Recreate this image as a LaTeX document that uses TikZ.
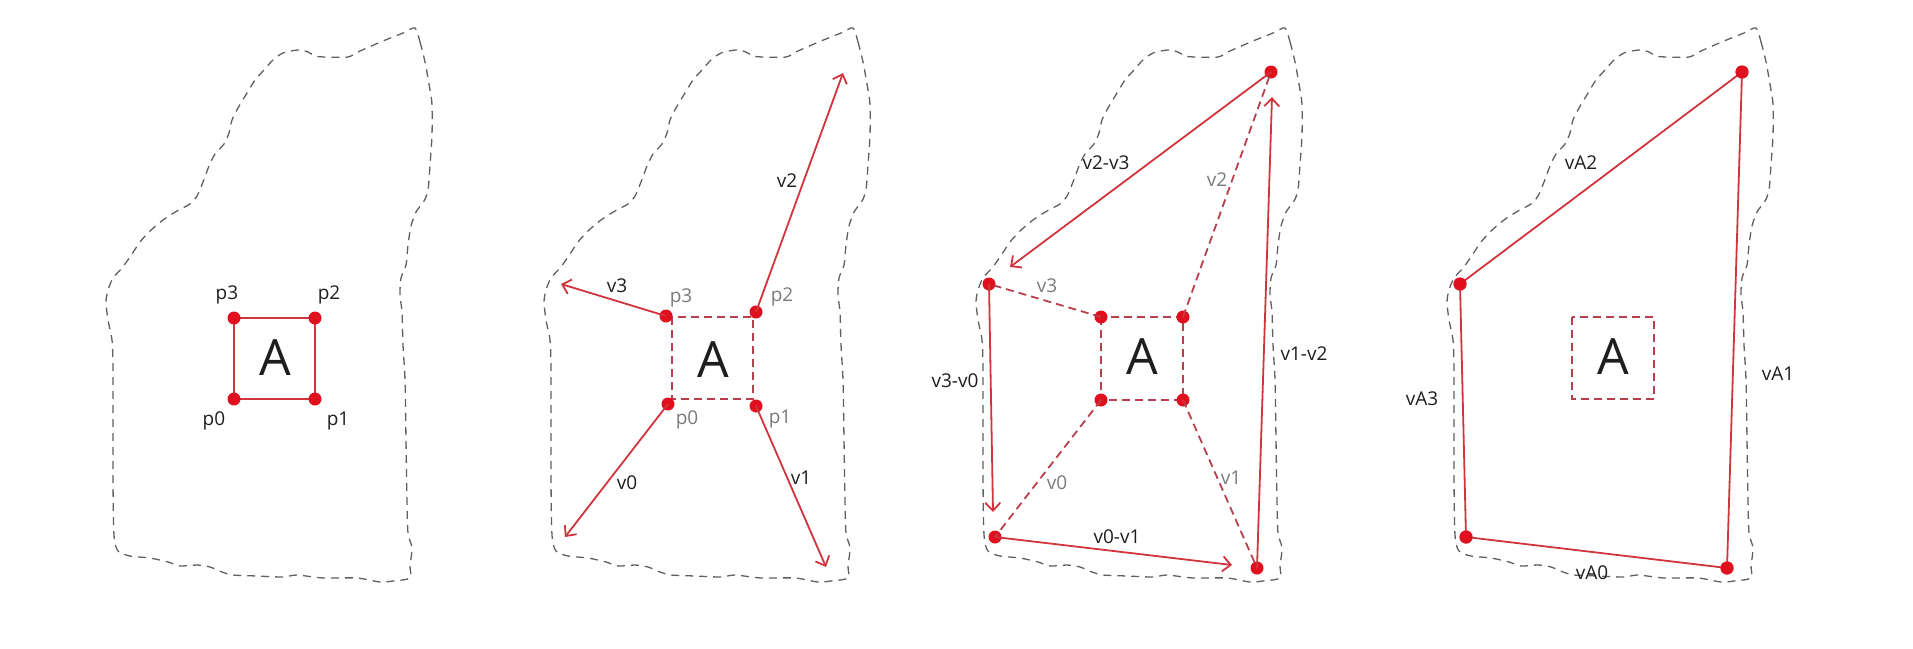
\documentclass[tikz,border=0pt]{standalone}
\usepackage{fontspec}
\setmainfont{Open Sans}
\usetikzlibrary{arrows.meta}
\definecolor{dotred}{HTML}{E0101E}
\definecolor{linered}{HTML}{D0343C}
\definecolor{sqred}{HTML}{B8404E}
\definecolor{blobgray}{HTML}{606060}
\definecolor{lblgray}{HTML}{7A7A7A}
\definecolor{txt}{HTML}{1E1E1E}
\tikzset{
  dot/.style={circle,fill=dotred,inner sep=0pt,minimum size=13pt},
  lbl/.style={font=\fontsize{19}{22}\selectfont,text=txt,inner sep=0pt},
  glbl/.style={lbl,text=lblgray},
  bigA/.style={font=\fontsize{50}{56}\selectfont,text=txt,inner sep=0pt},
  solidline/.style={draw=linered,line width=1.8pt},
  vecline/.style={solidline,-{Straight Barb[length=8pt,width=15pt,line width=1.8pt]}},
  dline/.style={draw=sqred,line width=1.8pt,dash pattern=on 8pt off 5pt},
  blobline/.style={draw=blobgray,line width=1.3pt,dash pattern=on 8pt off 6pt},
}
\begin{document}
\begin{tikzpicture}[x=1pt,y=-1pt]
\useasboundingbox (0,0) rectangle (1913,648);
% blob outlines
\foreach \dx in {0,438,870,1341}{
\draw[blobline,xshift=\dx] plot[smooth cycle,tension=0.45] coordinates {
(415,28) (420,42) (425,62) (430,90) (432,105) (432,135) (430,165) (428,190) (424,201) (416,212) (411,226) (408,245) (406,265) (401,278) (400,295) (402,312) (403,345) (405,380) (406,440) (407,500) (408,533) (412,548) (410,566) (410,578)
(393,581) (380,582) (357,578) (323,578) (297,575) (283,577) (257,576) (233,575) (222,572) (210,567) (197,565) (180,566) (168,562) (150,558) (130,556) (118,551) (114,535)
(113,480) (113,420) (113,367) (112,340) (108,320) (106,302) (108,290) (113,278) (122,268) (130,257) (140,242) (150,231) (163,220) (177,211) (190,204) (197,196) (203,182) (209,166) (215,154) (224,144) (229,133) (232,120) (238,108) (247,93) (255,80) (264,70) (273,60) (283,53) (298,50) (308,52) (315,56) (325,57) (348,57) (360,51) (383,41) (403,33)};
}
% ---------- panel 1 ----------
\draw[solidline] (234,318) rectangle (315,399);
\node[dot] (a3) at (234,318) {};
\node[dot] (a2) at (315,318) {};
\node[dot] (a0) at (234,399) {};
\node[dot] (a1) at (315,399) {};
\node[bigA] (aA) at (275,358) {A};
\node[lbl] (la3) at (227,295) {p3};
\node[lbl] (la2) at (329,295) {p2};
\node[lbl] (la0) at (214,421) {p0};
\node[lbl] (la1) at (338,421) {p1};
% ---------- panel 2 ----------
\draw[dline] (672,317) rectangle (753,399);
\node[dot] (b3) at (666,316) {};
\node[dot] (b2) at (756,312) {};
\node[dot] (b0) at (668,404) {};
\node[dot] (b1) at (756,406) {};
\coordinate (e3) at (561,284);
\coordinate (e2) at (843,73);
\coordinate (e0) at (565,537);
\coordinate (e1) at (826,567);
\draw[vecline] (b3.center) -- (e3);
\draw[vecline] (b2.center) -- (e2);
\draw[vecline] (b0.center) -- (e0);
\draw[vecline] (b1.center) -- (e1);
\node[bigA] (bA) at (713,360) {A};
\node[glbl] (lb3) at (681,298) {p3};
\node[glbl] (lb2) at (782,297) {p2};
\node[glbl] (lb0) at (687,420) {p0};
\node[glbl] (lb1) at (780,419) {p1};
\node[lbl] (lv3) at (617,286) {v3};
\node[lbl] (lv2) at (787,181) {v2};
\node[lbl] (lv0) at (627,483) {v0};
\node[lbl] (lv1) at (801,478) {v1};
% ---------- panel 3 ----------
\draw[dline] (1101,317) rectangle (1183,400);
\node[dot] (c3) at (1101,317) {};
\node[dot] (c2) at (1183,317) {};
\node[dot] (c0) at (1101,400) {};
\node[dot] (c1) at (1183,400) {};
\node[dot] (d3) at (989,284) {};
\node[dot] (d2) at (1271,72) {};
\node[dot] (d0) at (995,537) {};
\node[dot] (d1) at (1257,568) {};
\draw[dline] (c3.center) -- (d3.center);
\draw[dline] (c2.center) -- (d2.center);
\draw[dline] (c0.center) -- (d0.center);
\draw[dline] (c1.center) -- (d1.center);
\coordinate (t23) at (1010,267);
\coordinate (t30) at (993,512);
\coordinate (t01) at (1232,565);
\coordinate (t12) at (1272,97);
\draw[vecline] (d2.center) -- (t23);
\draw[vecline] (d3.center) -- (t30);
\draw[vecline] (d0.center) -- (t01);
\draw[vecline] (d1.center) -- (t12);
\node[bigA] (cA) at (1142,357) {A};
\node[lbl] (l23) at (1106,163) {v2-v3};
\node[lbl] (l30) at (955,381) {v3-v0};
\node[lbl] (l01) at (1117,537) {v0-v1};
\node[lbl] (l12) at (1304,354) {v1-v2};
\node[glbl] (lc2) at (1217,180) {v2};
\node[glbl] (lc3) at (1047,286) {v3};
\node[glbl] (lc0) at (1057,483) {v0};
\node[glbl] (lc1) at (1231,478) {v1};
% ---------- panel 4 ----------
\draw[dline] (1572,317) rectangle (1654,399);
\node[bigA] (dA) at (1613,357) {A};
\node[dot] (q3) at (1460,284) {};
\node[dot] (q2) at (1742,72) {};
\node[dot] (q0) at (1466,537) {};
\node[dot] (q1) at (1727,568) {};
\draw[solidline] (q0.center) -- (q1.center) -- (q2.center) -- (q3.center) -- cycle;
\foreach \q in {q0,q1,q2,q3} \node[dot] at (\q) {};
\node[lbl] (lq2) at (1581,163) {vA2};
\node[lbl] (lq3) at (1422,399) {vA3};
\node[lbl] (lq1) at (1778,374) {vA1};
\node[lbl] (lq0) at (1592,573) {vA0};
\end{tikzpicture}
\end{document}
